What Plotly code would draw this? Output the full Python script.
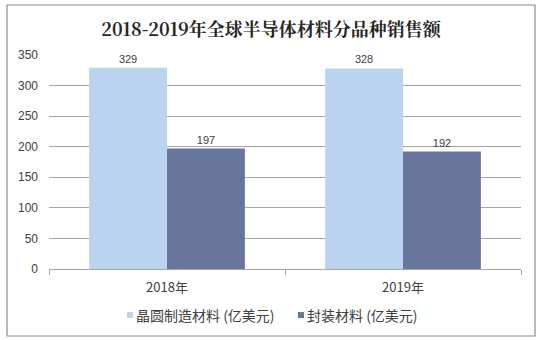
import plotly.graph_objects as go

# Sales by material type, 2018-2019 (100 million USD)
years = ["2018年", "2019年"]
wafer_materials = [329, 328]
packaging_materials = [197, 192]
series_names = ["晶圆制造材料 (亿美元)", "封装材料 (亿美元)"]
series_colors = ["#BAD4F0", "#68769C"]
y_ticks = [0, 50, 100, 150, 200, 250, 300, 350]

W, H = 541, 340
ML, MR, MT, MB = 49, 20, 55, 71
pw, ph = W - ML - MR, H - MT - MB


def px_x(x):
    return (x - ML) / pw


def px_y(y):
    return (H - MB - y) / ph


label_font = dict(family="Liberation Sans, Arial, sans-serif", size=11, color="#404040")

fig = go.Figure()
for vals, name, color in zip([wafer_materials, packaging_materials], series_names, series_colors):
    fig.add_bar(
        x=years, y=vals, name=name,
        marker=dict(color=color, line=dict(width=0)),
        text=[str(v) for v in vals], textposition="outside",
        textfont=label_font, cliponaxis=False,
    )

# outer frame
fig.add_shape(
    type="rect", xref="paper", yref="paper",
    x0=px_x(7), x1=px_x(535), y0=px_y(336), y1=px_y(5),
    line=dict(color="#8C8C8C", width=1.2), fillcolor="rgba(0,0,0,0)", layer="above",
)

# legend: small square swatch followed by the series name
legend_x = [127, 298]
for lx, name, color in zip(legend_x, series_names, series_colors):
    fig.add_shape(
        type="rect", xref="paper", yref="paper",
        x0=px_x(lx), x1=px_x(lx + 6), y0=px_y(318), y1=px_y(312),
        fillcolor=color, line=dict(width=0),
    )
    fig.add_annotation(
        xref="paper", yref="paper", x=px_x(lx + 7), y=px_y(315),
        xanchor="left", yanchor="middle", showarrow=False, text=name,
        font=dict(family="Noto Sans CJK SC", size=14, color="#404040"),
    )

fig.update_layout(
    width=W, height=H,
    margin=dict(l=ML, r=MR, t=MT, b=MB, autoexpand=False),
    paper_bgcolor="white", plot_bgcolor="white",
    barmode="group", bargap=0.34, bargroupgap=0,
    showlegend=False,
    title=dict(
        text="<b>2018-2019年全球半导体材料分品种销售额</b>",
        x=px_x(271), xanchor="center", xref="paper",
        y=1 - 30 / H, yanchor="middle",
        font=dict(family="Noto Serif CJK SC, Noto Sans CJK SC", size=18, color="#262626"),
    ),
    font=dict(family="Liberation Sans, Arial, sans-serif", color="#404040"),
    xaxis=dict(
        automargin=False,
        showline=True, linecolor="#A6A6A6", linewidth=1,
        ticks="outside", tickson="boundaries", ticklen=5, tickcolor="#A6A6A6",
        ticklabelstandoff=6,
        tickfont=dict(family="Noto Sans CJK SC", size=13, color="#404040"),
        showgrid=False,
    ),
    yaxis=dict(
        automargin=False,
        range=[0, 350], tickvals=y_ticks,
        showgrid=True, gridcolor="#A6A6A6", gridwidth=1,
        showline=False, zeroline=False, ticks="",
        ticklabelstandoff=10,
        tickfont=dict(family="Liberation Sans, Arial, sans-serif", size=12, color="#404040"),
    ),
)

fig.write_html("out.html")
